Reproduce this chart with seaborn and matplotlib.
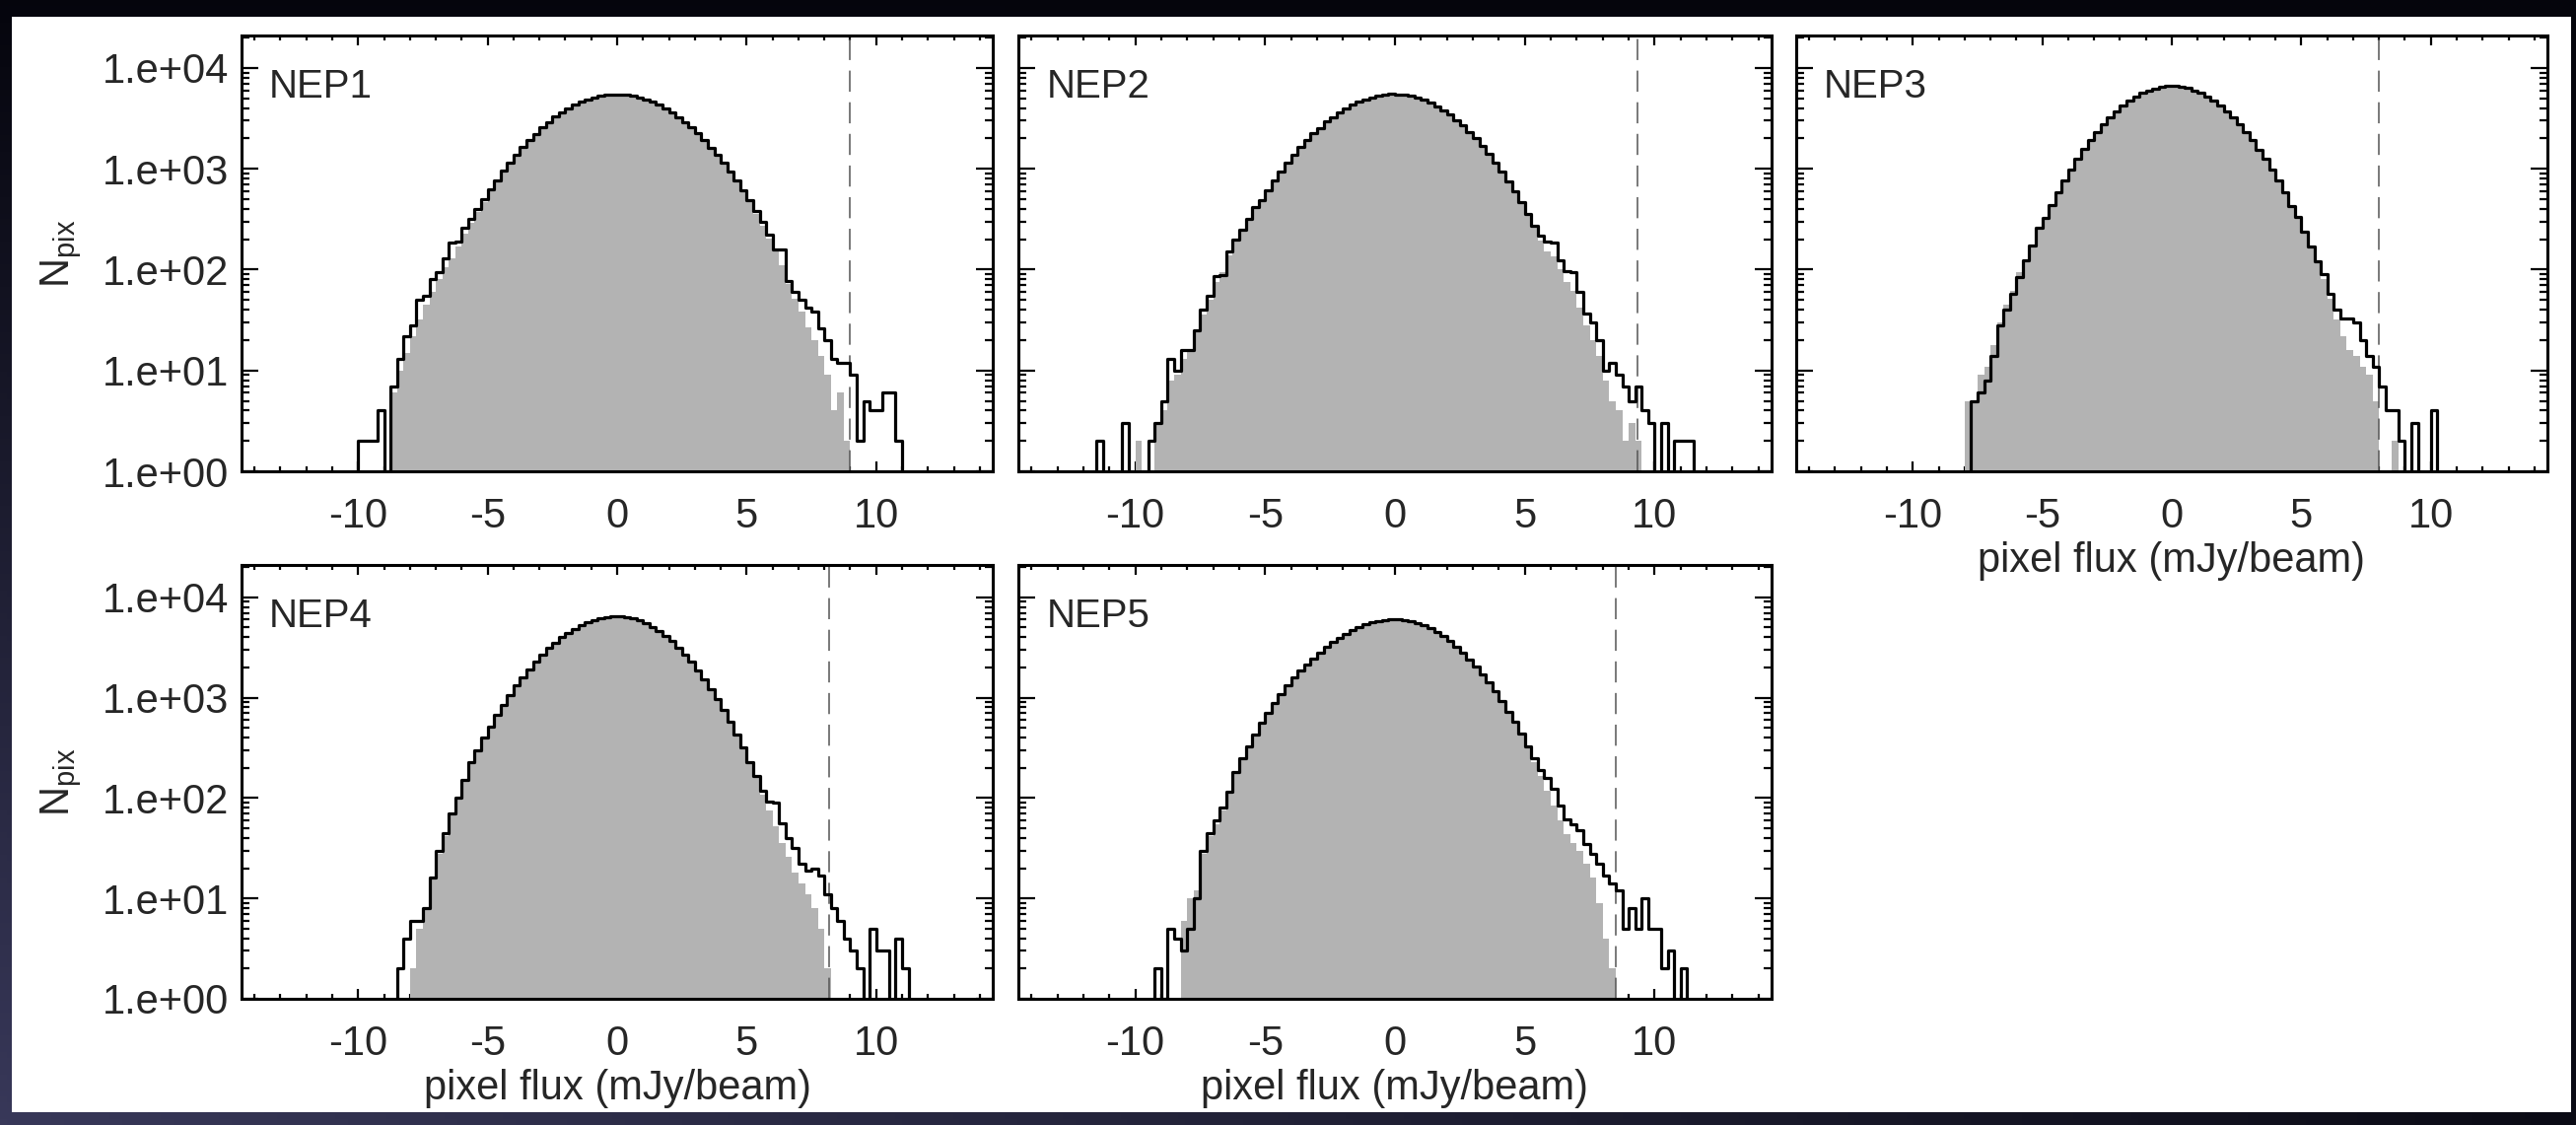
import numpy as np
import pandas as pd
import matplotlib
matplotlib.use("Agg")
import matplotlib.pyplot as plt
import seaborn as sns
from matplotlib.ticker import MultipleLocator, LogLocator, FuncFormatter, NullFormatter
from matplotlib.patches import Rectangle

sns.set_style("ticks")
plt.rcParams['font.family'] = ['Liberation Sans', 'DejaVu Sans']
plt.rcParams['mathtext.fontset'] = 'custom'
plt.rcParams['mathtext.rm'] = 'Liberation Sans'
plt.rcParams['mathtext.it'] = 'Liberation Sans:italic'
plt.rcParams['axes.unicode_minus'] = False

# ---------------- data ----------------
bin_width = 0.25
edge_lo, edge_hi = -11.75, 11.75

fields = ["NEP1", "NEP2", "NEP3", "NEP4", "NEP5"]
cut_lines = [9.0, 9.33, 8.0, 8.2, 8.5]

# counts per 0.25 mJy/beam bin; "neg" covers -11.75..0, "pos" covers 0..11.75
n1_black_neg = [0, 0, 0, 0, 0, 0, 0, 2, 2, 2, 4, 1, 7, 13, 22, 28, 50, 55, 80, 95, 130, 185, 190, 260, 320, 400, 500,
                625, 775, 950, 1150, 1390, 1640, 1940, 2230, 2580, 2900, 3280, 3610, 3990, 4300, 4640, 4880, 5130, 5290, 5440, 5490]
n1_black_pos = [5490, 5410, 5310, 5110, 4900, 4610, 4320, 3960, 3630, 3260, 2920, 2560, 2240, 1920, 1630, 1380, 1140, 940, 760, 610,
                490, 385, 300, 220, 160, 160, 78, 60, 50, 42, 38, 26, 20, 13, 12, 12, 9, 2, 5, 4, 4, 6, 6, 2, 0, 0, 0]
n1_gray_neg = [0, 0, 0, 0, 0, 0, 0, 0, 0, 0, 0, 0, 6, 10, 15, 22, 32, 45, 60, 80, 105, 130, 170, 225, 290, 370, 470,
               625, 775, 950, 1150, 1390, 1640, 1940, 2230, 2580, 2900, 3280, 3610, 3990, 4300, 4640, 4880, 5130, 5290, 5440, 5490]
n1_gray_pos = [5490, 5410, 5310, 5110, 4900, 4610, 4320, 3960, 3630, 3260, 2920, 2560, 2240, 1920, 1630, 1380, 1140, 940, 760, 610,
               470, 360, 275, 205, 150, 110, 72, 52, 38, 27, 20, 14, 9, 4, 6, 2, 0, 0, 0, 0, 0, 0, 0, 0, 0, 0, 0]

n2_black_neg = [0, 2, 0, 0, 0, 3, 0, 0, 0, 2, 3, 5, 13, 10, 16, 16, 25, 40, 55, 86, 88, 150, 200, 250, 320, 420, 490,
                610, 770, 930, 1160, 1370, 1650, 1910, 2250, 2550, 2930, 3250, 3640, 3960, 4330, 4600, 4900, 5100, 5310, 5430, 5520]
n2_black_pos = [5490, 5420, 5280, 5080, 4820, 4520, 4180, 3820, 3440, 3060, 2690, 2330, 2000, 1690, 1410, 1160, 940, 756, 600, 470,
                360, 275, 215, 190, 185, 125, 96, 95, 60, 37, 30, 20, 10, 12, 9, 7, 5, 7, 4, 3, 0, 3, 0, 2, 2, 2, 0]
n2_gray_neg = [0, 0, 0, 0, 0, 0, 0, 2, 0, 0, 3, 4, 8, 9, 13, 16, 24, 36, 50, 75, 95, 140, 190, 240, 305, 400, 470,
               610, 770, 930, 1160, 1370, 1650, 1910, 2250, 2550, 2930, 3250, 3640, 3960, 4330, 4600, 4900, 5100, 5310, 5430, 5520]
n2_gray_pos = [5490, 5420, 5280, 5080, 4820, 4520, 4180, 3820, 3440, 3060, 2690, 2330, 2000, 1690, 1410, 1160, 940, 756, 600, 470,
               350, 265, 195, 150, 135, 100, 75, 62, 42, 28, 20, 14, 8, 5, 4, 2, 3, 2, 0, 0, 0, 0, 0, 0, 0, 0, 0]

n3_black_neg = [0, 0, 0, 0, 0, 0, 0, 0, 0, 0, 0, 0, 0, 0, 0, 0, 5, 6, 8, 14, 28, 40, 58, 85, 125, 175, 260,
                326, 440, 585, 770, 990, 1250, 1560, 1920, 2320, 2760, 3230, 3730, 4230, 4730, 5200, 5630, 6000, 6290, 6490, 6590]
n3_black_pos = [6600, 6480, 6300, 5990, 5640, 5190, 4740, 4220, 3740, 3220, 2770, 2310, 1930, 1550, 1260, 980, 760, 590, 430, 330,
                237, 170, 120, 90, 57, 40, 33, 33, 30, 20, 14, 11, 7, 4, 4, 2, 0, 3, 0, 0, 4, 0, 0, 0, 0, 0, 0]
n3_gray_neg = [0, 0, 0, 0, 0, 0, 0, 0, 0, 0, 0, 0, 0, 0, 0, 5, 5, 9, 11, 18, 30, 45, 62, 95, 125, 175, 260,
               326, 440, 585, 770, 990, 1250, 1560, 1920, 2320, 2760, 3230, 3730, 4230, 4730, 5200, 5630, 6000, 6290, 6490, 6590]
n3_gray_pos = [6600, 6480, 6300, 5990, 5640, 5190, 4740, 4220, 3740, 3220, 2770, 2310, 1930, 1550, 1260, 980, 760, 590, 430, 330,
               237, 165, 115, 80, 52, 32, 22, 16, 14, 11, 9, 5, 0, 0, 2, 0, 0, 0, 0, 0, 0, 0, 0, 0, 0, 0, 0]

n4_black_neg = [0, 0, 0, 0, 0, 0, 0, 0, 0, 0, 0, 0, 0, 2, 4, 6, 6, 8, 16, 30, 45, 70, 100, 150, 230, 300, 400,
                520, 670, 850, 1060, 1320, 1600, 1930, 2300, 2690, 3110, 3550, 4000, 4450, 4880, 5280, 5650, 5950, 6190, 6360, 6450]
n4_black_pos = [6440, 6340, 6140, 5860, 5500, 5080, 4620, 4140, 3650, 3160, 2700, 2270, 1880, 1530, 1220, 960, 750, 570, 430, 320,
                230, 166, 117, 92, 90, 56, 40, 32, 22, 19, 20, 17, 11, 8, 6, 4, 3, 2, 0, 5, 3, 3, 0, 4, 2, 0, 0]
n4_gray_neg = [0, 0, 0, 0, 0, 0, 0, 0, 0, 0, 0, 0, 0, 0, 0, 2, 5, 8, 16, 28, 42, 70, 100, 150, 230, 300, 400,
               520, 670, 850, 1060, 1320, 1600, 1930, 2300, 2690, 3110, 3550, 4000, 4450, 4880, 5280, 5650, 5950, 6190, 6360, 6450]
n4_gray_pos = [6440, 6340, 6140, 5860, 5500, 5080, 4620, 4140, 3650, 3160, 2700, 2270, 1880, 1530, 1220, 960, 750, 570, 430, 320,
               225, 158, 108, 75, 52, 36, 26, 18, 14, 11, 8, 5, 2, 0, 0, 0, 0, 0, 0, 0, 0, 0, 0, 0, 0, 0, 0]

n5_black_neg = [0, 0, 0, 0, 0, 0, 0, 0, 0, 0, 2, 1, 5, 4, 3, 5, 10, 30, 45, 60, 80, 115, 180, 250, 330, 430, 560,
                700, 880, 1090, 1320, 1580, 1850, 2150, 2450, 2810, 3190, 3580, 3970, 4360, 4720, 5060, 5360, 5610, 5810, 5950, 6020]
n5_black_pos = [6020, 5930, 5770, 5540, 5240, 4890, 4500, 4090, 3660, 3230, 2810, 2420, 2050, 1710, 1410, 1150, 920, 730, 570, 440,
                330, 250, 190, 160, 125, 85, 62, 55, 48, 35, 28, 22, 17, 14, 12, 5, 8, 5, 10, 5, 5, 2, 3, 0, 2, 0, 0]
n5_gray_neg = [0, 0, 0, 0, 0, 0, 0, 0, 0, 0, 0, 0, 0, 0, 6, 10, 12, 28, 42, 55, 75, 110, 180, 250, 330, 430, 560,
               700, 880, 1090, 1320, 1580, 1850, 2150, 2450, 2810, 3190, 3580, 3970, 4360, 4720, 5060, 5360, 5610, 5810, 5950, 6020]
n5_gray_pos = [6020, 5930, 5770, 5540, 5240, 4890, 4500, 4090, 3660, 3230, 2810, 2420, 2050, 1710, 1410, 1150, 920, 730, 570,
               425, 315, 230, 165, 118, 85, 60, 44, 36, 30, 22, 16, 9, 4, 2, 0, 0, 0, 0, 0, 0, 0, 0, 0, 0, 0, 0, 0]

black_sets = [(n1_black_neg, n1_black_pos), (n2_black_neg, n2_black_pos), (n3_black_neg, n3_black_pos),
              (n4_black_neg, n4_black_pos), (n5_black_neg, n5_black_pos)]
gray_sets = [(n1_gray_neg, n1_gray_pos), (n2_gray_neg, n2_gray_pos), (n3_gray_neg, n3_gray_pos),
             (n4_gray_neg, n4_gray_pos), (n5_gray_neg, n5_gray_pos)]

x_label = "pixel flux (mJy/beam)"
y_label = r"N$_{\rm pix}$"

# ---------------- figure ----------------
W, H = 2613, 1141
fig = plt.figure(figsize=(W / 100, H / 100), dpi=100, facecolor="black")

# slide background (dark frame with bluish tint lower-left) and white page
bg = fig.add_axes([0, 0, 1, 1], zorder=-10)
yy, xx = np.mgrid[0:1:200j, 0:1:400j]
t = np.clip(yy * (1 - 0.9 * xx), 0, 1)
img = np.dstack([0.02 + 0.20 * t, 0.02 + 0.20 * t, 0.05 + 0.30 * t])
bg.imshow(img, extent=[0, 1, 0, 1], aspect="auto", origin="upper")
bg.add_patch(Rectangle((12 / W, (H - 1128) / H), (2608 - 12) / W, (1128 - 17) / H,
                       facecolor="white", edgecolor="none"))
bg.set_xlim(0, 1)
bg.set_ylim(0, 1)
bg.axis("off")

boxes = [(245, 36, 1007, 478), (1033, 36, 1797, 478), (1822, 36, 2584, 478),
         (245, 573, 1007, 1013), (1033, 573, 1797, 1013)]

n_bins = int(round((edge_hi - edge_lo) / bin_width))
centers = edge_lo + bin_width / 2 + bin_width * np.arange(n_bins)

FS = 30
for k, (name, box) in enumerate(zip(fields, boxes)):
    x0, y0, x1, y1 = box
    ax = fig.add_axes([x0 / W, 1 - y1 / H, (x1 - x0) / W, (y1 - y0) / H])
    ax.set_facecolor("white")
    df = pd.DataFrame({
        "flux": centers,
        "black": np.array(black_sets[k][0] + black_sets[k][1], dtype=float),
        "gray": np.array(gray_sets[k][0] + gray_sets[k][1], dtype=float),
    })

    sns.histplot(data=df, x="flux", weights="gray", binwidth=bin_width, binrange=(edge_lo, edge_hi),
                 element="step", fill=True, color="#b3b3b3", alpha=1, linewidth=0, ax=ax)
    sns.histplot(data=df, x="flux", weights="black", binwidth=bin_width, binrange=(edge_lo, edge_hi),
                 element="step", fill=False, color="black", linewidth=2.3, ax=ax)
    ax.axvline(cut_lines[k], color="#555555", lw=1.1, ls=(0, (14, 7)), zorder=1)

    ax.set_yscale("log")
    ax.set_ylim(1, 2.1e4)
    ax.set_xlim(-14.5, 14.5)
    ax.xaxis.set_major_locator(MultipleLocator(5))
    ax.xaxis.set_minor_locator(MultipleLocator(1))
    ax.yaxis.set_major_locator(LogLocator(base=10, numticks=10))
    ax.yaxis.set_minor_locator(LogLocator(base=10, subs=np.arange(2, 10), numticks=20))
    ax.yaxis.set_minor_formatter(NullFormatter())

    ax.tick_params(which="both", direction="in", top=True, right=True,
                   width=1.6, color="black", labelsize=FS)
    ax.tick_params(axis="x", which="major", length=7, pad=19)
    ax.tick_params(axis="x", which="minor", length=3.5)
    ax.tick_params(axis="y", which="major", length=12, pad=9)
    ax.tick_params(axis="y", which="minor", length=6)
    for sp in ax.spines.values():
        sp.set_linewidth(2.2)
        sp.set_color("black")

    if k in (0, 3):
        ax.yaxis.set_major_formatter(FuncFormatter(lambda v, p: "1.e+%02d" % int(round(np.log10(v)))))
        ax.set_ylabel(y_label, fontsize=FS, labelpad=14)
    else:
        ax.yaxis.set_major_formatter(NullFormatter())
        ax.set_ylabel("")
    if k in (2, 3, 4):
        ax.set_xlabel(x_label, fontsize=FS, labelpad=3)
    else:
        ax.set_xlabel("")

    ax.text(0.037, 0.925, name, transform=ax.transAxes, fontsize=29, va="top", ha="left")

fig.savefig("out.png", dpi=100, facecolor=fig.get_facecolor())
